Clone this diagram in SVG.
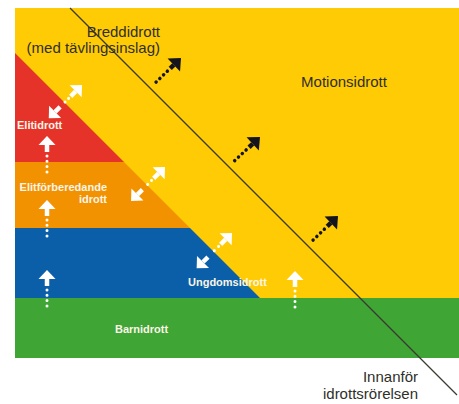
<svg xmlns="http://www.w3.org/2000/svg" xmlns:xlink="http://www.w3.org/1999/xlink" width="459" height="404" viewBox="0 0 459 404">
<style>
.dark{font-family:"Liberation Sans",Arial,sans-serif;fill:#2f2f2a;font-size:15px}
.wl{font-family:"Liberation Sans",Arial,sans-serif;fill:#fbf5e8;font-size:11px;font-weight:bold}
.dw{stroke:#ffffff;stroke-width:3;stroke-linecap:round}
.db{stroke:#14141e;stroke-width:3.5;stroke-linecap:round;stroke-dasharray:0 5.2}
</style>
<defs>
  <g id="upArrowW">
    <polygon points="0,0 -9,-8.5 -9,8.5" fill="#ffffff"/>
    <line x1="-9" y1="0" x2="-16" y2="0" stroke="#ffffff" stroke-width="4.5"/>
  </g>
  <g id="headB">
    <polygon points="0,0 -10,-9 -10,9" fill="#14141e"/>
    <line x1="-10" y1="0" x2="-15" y2="0" stroke="#14141e" stroke-width="4.5"/>
  </g>
</defs>
<rect x="0" y="0" width="459" height="404" fill="#ffffff"/>
<g id="zones">
  <rect id="motion" x="15" y="8" width="444" height="290" fill="#ffcb05"/>
  <polygon id="red" points="15,53 124,162 15,162" fill="#e5332a"/>
  <polygon id="orange" points="15,162 124,162 190,228 15,228" fill="#f29200"/>
  <polygon id="blue" points="15,228 190,228 260,298 15,298" fill="#0a5fa8"/>
  <rect id="green" x="15" y="298" width="444" height="60" fill="#3fa535"/>
</g>
<g id="connectors">
  <line x1="70" y1="8" x2="457" y2="395" stroke="#3a3a30" stroke-width="1.3"/>
  <g transform="translate(47,136) rotate(-90)"><use xlink:href="#upArrowW"/><line class="dw" x1="-20" y1="0" x2="-36" y2="0" stroke-dasharray="0 5.3"/></g>
  <g transform="translate(47,200) rotate(-90)"><use xlink:href="#upArrowW"/><line class="dw" x1="-20" y1="0" x2="-39" y2="0" stroke-dasharray="0 5.3"/></g>
  <g transform="translate(47,270) rotate(-90)"><use xlink:href="#upArrowW"/><line class="dw" x1="-20" y1="0" x2="-39" y2="0" stroke-dasharray="0 5.3"/></g>
  <g transform="translate(295,271) rotate(-90)"><use xlink:href="#upArrowW"/><line class="dw" x1="-20" y1="0" x2="-38" y2="0" stroke-dasharray="0 5.3"/></g>
  <g transform="translate(82,85) rotate(-45)"><use xlink:href="#upArrowW"/><g transform="translate(-47,0) rotate(180)"><use xlink:href="#upArrowW"/></g><line class="dw" x1="-19" y1="0" x2="-29" y2="0" stroke-dasharray="0 5"/></g>
  <g transform="translate(165,167) rotate(-45)"><use xlink:href="#upArrowW"/><g transform="translate(-48,0) rotate(180)"><use xlink:href="#upArrowW"/></g><line class="dw" x1="-19" y1="0" x2="-30" y2="0" stroke-dasharray="0 5.5"/></g>
  <g transform="translate(232,233) rotate(-45)"><use xlink:href="#upArrowW"/><g transform="translate(-50,0) rotate(180)"><use xlink:href="#upArrowW"/></g><line class="dw" x1="-19" y1="0" x2="-31" y2="0" stroke-dasharray="0 6"/></g>
  <g transform="translate(181,58) rotate(-44)"><use xlink:href="#headB"/><line class="db" x1="-19" y1="0" x2="-39" y2="0"/></g>
  <g transform="translate(260,137) rotate(-43)"><use xlink:href="#headB"/><line class="db" x1="-19" y1="0" x2="-38" y2="0"/></g>
  <g transform="translate(338,216) rotate(-44)"><use xlink:href="#headB"/><line class="db" x1="-19" y1="0" x2="-39" y2="0"/></g>
</g>
<g id="breddidrott"><text class="dark" x="160" y="37" text-anchor="end">Breddidrott</text><text class="dark" x="160" y="53" text-anchor="end">(med tävlingsinslag)</text></g>
<g id="motionsidrott"><text class="dark" x="344" y="87" text-anchor="middle" font-size="16">Motionsidrott</text></g>
<g id="elitidrott"><text class="wl" x="17" y="129">Elitidrott</text></g>
<g id="elitforb"><text class="wl" x="107" y="191" text-anchor="end">Elitförberedande</text><text class="wl" x="107" y="203" text-anchor="end">idrott</text></g>
<g id="ungdom"><text class="wl" x="188" y="286">Ungdomsidrott</text></g>
<g id="barn"><text class="wl" x="115" y="333">Barnidrott</text></g>
<g id="innanfor"><text class="dark" x="418" y="382" text-anchor="end" font-size="13" fill="#3a3a4a">Innanför</text><text class="dark" x="418" y="399" text-anchor="end" font-size="13" fill="#3a3a4a">idrottsrörelsen</text></g>
</svg>
